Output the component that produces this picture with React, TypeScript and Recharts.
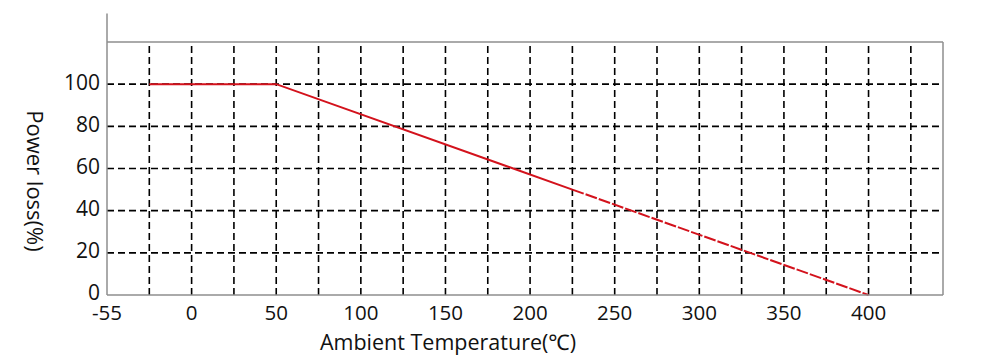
import * as React from "react"
import {
  LineChart,
  Line,
  XAxis,
  YAxis,
  ReferenceLine,
  Label,
} from "recharts"

// derating curve: solid part, then dashed part past 225
const temps = [-25, 50, 225, 400]
const solidLoss = [100, 100, 50, null]
const dashedLoss = [null, null, 50, 0]

// axis ticks (the leftmost tick sits at -50 but is labelled -55)
const xTicks = [-50, 0, 50, 100, 150, 200, 250, 300, 350, 400]
const xTickLabels = ["-55", "0", "50", "100", "150", "200", "250", "300", "350", "400"]
const yTicks = [0, 20, 40, 60, 80, 100]

// dashed grid
const gridX = [-25, 0, 25, 50, 75, 100, 125, 150, 175, 200, 225, 250, 275, 300, 325, 350, 375, 400, 425]
const gridY = [20, 40, 60, 80, 100]

const X_MIN = -50
const X_MAX = 444
const Y_MAX = 120

const data = temps.map((t, i) => ({
  temp: t,
  solid: solidLoss[i],
  dashed: dashedLoss[i],
}))

const font = "'Open Sans', 'Noto Sans', 'Noto Sans CJK SC', sans-serif"
const axisGray = "#8e8e8e"
const red = "#d3121c"

export default function App() {
  return (
    <div style={{ position: "absolute", left: 0, top: 0, fontFamily: font }}>
      <LineChart
        width={1000}
        height={361}
        data={data}
        margin={{ top: 42, right: 57, left: 0, bottom: 0 }}
      >
        <XAxis
          dataKey="temp"
          type="number"
          domain={[X_MIN, X_MAX]}
          ticks={xTicks}
          tickFormatter={(v: number) => xTickLabels[xTicks.indexOf(v)] ?? String(v)}
          tickLine={false}
          tickSize={4}
          tickMargin={6}
          height={66}
          allowDataOverflow
          axisLine={{ stroke: axisGray, strokeWidth: 1.5 }}
          tick={{ fill: "#111", fontSize: 20.5, fontFamily: font }}
        >
          <Label
            value="Ambient Temperature(℃)"
            position="insideBottom"
            offset={11}
            dx={-77}
            style={{ fill: "#111", fontSize: 21.5, fontFamily: font }}
          />
        </XAxis>
        <YAxis
          type="number"
          domain={[0, Y_MAX]}
          ticks={yTicks}
          width={107}
          tickLine={false}
          tickSize={4}
          tickMargin={3}
          axisLine={{ stroke: axisGray, strokeWidth: 1.5 }}
          tick={{ fill: "#111", fontSize: 21, fontFamily: font, dy: -2 }}
        >
          <Label
            content={() => (
              <text
                x={36}
                y={181}
                transform="rotate(90 36 181)"
                textAnchor="middle"
                dominantBaseline="central"
                fill="#111"
                fontSize={22}
                fontFamily={font}
              >
                Power loss(%)
              </text>
            )}
          />
        </YAxis>

        {gridY.map((v) => (
          <ReferenceLine
            key={"gy" + v}
            y={v}
            stroke="#000"
            strokeWidth={1.6}
            strokeDasharray="7 4"
          />
        ))}
        {gridX.map((v) => (
          <ReferenceLine
            key={"gx" + v}
            segment={[{ x: v, y: 0 }, { x: v, y: Y_MAX }]}
            stroke="#000"
            strokeWidth={1.6}
            strokeDasharray="7 4"
          />
        ))}

        {/* frame: top, right, and the left axis running above the plot */}
        <ReferenceLine y={Y_MAX} stroke={axisGray} strokeWidth={1.5} />
        <ReferenceLine
          segment={[{ x: X_MAX, y: 0 }, { x: X_MAX, y: Y_MAX }]}
          stroke={axisGray}
          strokeWidth={1.5}
        />
        <ReferenceLine
          segment={[{ x: X_MIN, y: Y_MAX }, { x: X_MIN, y: 133.5 }]}
          stroke={axisGray}
          strokeWidth={1.5}
          ifOverflow="visible"
        />

        <Line
          dataKey="solid"
          stroke={red}
          strokeWidth={2}
          dot={false}
          activeDot={false}
          isAnimationActive={false}
        />
        <Line
          dataKey="dashed"
          stroke={red}
          strokeWidth={2}
          strokeDasharray="12 2"
          dot={false}
          activeDot={false}
          isAnimationActive={false}
        />
      </LineChart>
    </div>
  )
}
